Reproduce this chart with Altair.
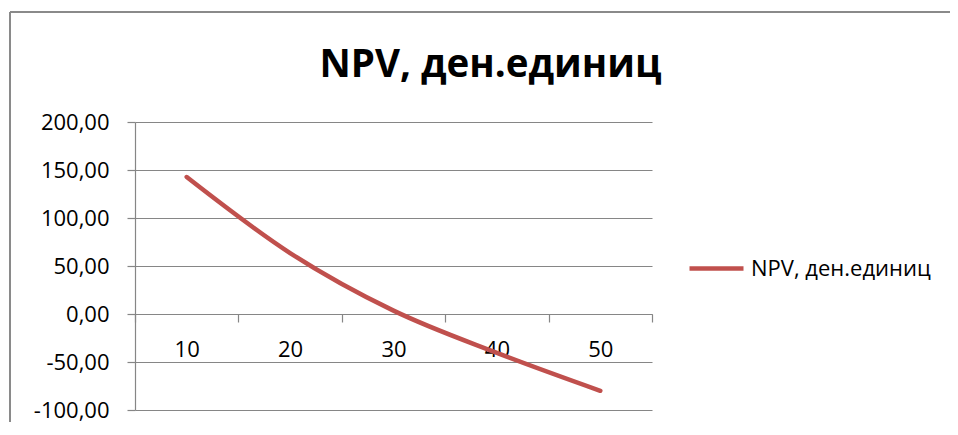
import altair as alt
import pandas as pd

rates = ["10", "20", "30", "40", "50"]
npv = [142.7, 63.5, 3.5, -40.5, -80.0]
series_name = "NPV, ден.единиц"
y_ticks = [-100, -50, 0, 50, 100, 150, 200]

df = pd.DataFrame({"rate": rates, "npv": npv, "series": [series_name] * len(rates)})

GRID = "#868686"
FONT = "Open Sans"

line = alt.Chart(df).mark_line(strokeWidth=4.5, interpolate="monotone", strokeCap="round").encode(
    x=alt.X(
        "rate:N", sort=rates, title=None,
        scale=alt.Scale(type="band", paddingInner=0, paddingOuter=0),
        axis=alt.Axis(
            labelAngle=0, offset=-96, tickBand="extent", grid=False,
            domainColor=GRID, tickColor=GRID, tickSize=8, domainWidth=1.2, tickWidth=1.2,
            labelPadding=17, labelFontSize=22, labelFont=FONT, labelColor="black",
        ),
    ),
    y=alt.Y(
        "npv:Q", title=None,
        scale=alt.Scale(domain=[-100, 200], nice=False, zero=False),
        axis=alt.Axis(
            values=y_ticks,
            labelExpr="(datum.value < 0 ? '-' : '') + replace(format(abs(datum.value), '.2f'), '.', ',')",
            grid=True, gridColor=GRID, gridWidth=1.2, domainColor=GRID, domainWidth=1.2,
            tickColor=GRID, tickSize=8, tickWidth=1.2,
            labelPadding=18, labelFontSize=22, labelFont=FONT, labelColor="black",
        ),
    ),
    color=alt.Color(
        "series:N", scale=alt.Scale(range=["#C0504D"]),
        legend=alt.Legend(
            title=None, orient="none", legendX=552, legendY=117,
            symbolType="stroke", symbolSize=2916, symbolStrokeWidth=4.5,
            labelFontSize=22, labelFont=FONT, labelColor="black", labelOffset=5,
            labelLimit=400,
        ),
    ),
)

border_top = alt.Chart(df).mark_rule(color="#8a8a8a", strokeWidth=2).encode(
    x=alt.value(-125), x2=alt.value(815), y=alt.value(-110)
)
border_left = alt.Chart(df).mark_rule(color="#8a8a8a", strokeWidth=2).encode(
    x=alt.value(-125), y=alt.value(-110), y2=alt.value(300)
)

chart = alt.layer(border_top, border_left, line).properties(
    width=517, height=288,
    autosize=alt.AutoSizeParams(type="none"),
    padding={"left": 127, "top": 114, "right": 298, "bottom": 12},
    title=alt.TitleParams(
        series_name, fontSize=38.5, font=FONT, fontWeight="bold", color="black",
        anchor="middle", frame="group", dx=97, baseline="alphabetic", offset=-104,
    ),
).configure_view(stroke=None)

chart.save("out.html", embed_options={"renderer": "svg", "actions": False})
